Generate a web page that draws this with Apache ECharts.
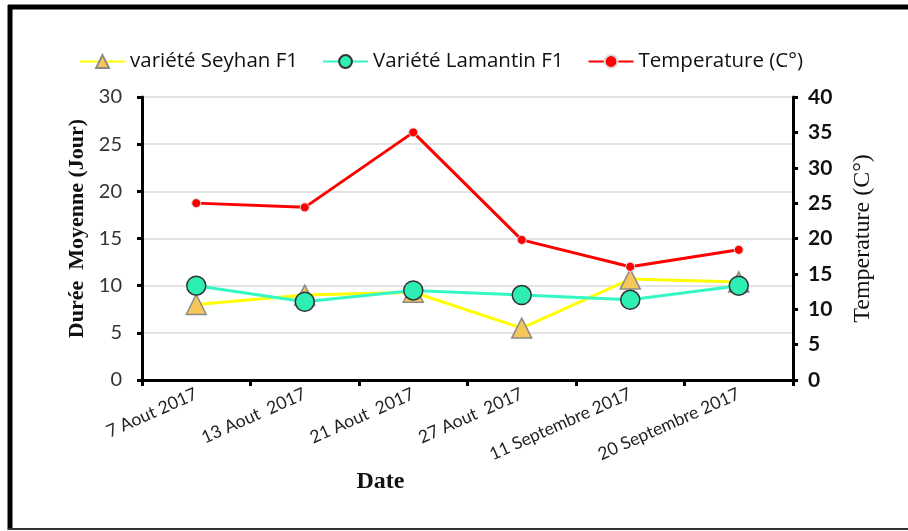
<!DOCTYPE html>
<html>
<head>
<meta charset="utf-8">
<script src="https://cdn.jsdelivr.net/npm/echarts@6/dist/echarts.min.js"></script>
<style>
body{margin:0;background:#fff;}
#main{width:908px;height:531px;}
</style>
</head>
<body>
<div id="main"></div>
<script>
// categories (dates)
var dates = ['7 Aout 2017', '13 Aout  2017', '21 Aout  2017', '27 Aout  2017', '11 Septembre 2017', '20 Septembre 2017'];
// durée moyenne (jour)
var seyhan = [8.0, 9.0, 9.3, 5.5, 10.7, 10.4];
var lamantin = [10.0, 8.3, 9.5, 9.0, 8.5, 10.0];
// temperature (C°), axe de droite
var temperature = [25.0, 24.4, 35.0, 19.8, 16.0, 18.4];

var seriesNames = ['variété Seyhan F1', 'Variété Lamantin F1', 'Temperature (C°)'];

var myChart = echarts.init(document.getElementById('main'));

var option = {
	backgroundColor: '#fff',
	animation: false,
	textStyle: {fontFamily: 'Lato'},
	legend: {
		top: 46,
		left: 74,
		itemWidth: 45,
		itemHeight: 16,
		itemGap: 24,
		textStyle: {fontSize: 20.5, color: '#111', fontFamily: 'Open Sans'},
		data: seriesNames
	},
	grid: {left: 142, right: 115, top: 97, bottom: 151},
	xAxis: {
		type: 'category',
		data: dates,
		name: 'Date',
		nameLocation: 'middle',
		nameGap: 86,
		nameTextStyle: {fontFamily: 'Liberation Serif', fontWeight: 'bold', fontSize: 24, color: '#111', padding: [0, 174, 0, 0]},
		axisLine: {lineStyle: {color: '#000', width: 3}},
		axisTick: {show: true, length: 6, lineStyle: {color: '#000', width: 3}},
		axisLabel: {rotate: 24, fontSize: 17.5, color: '#222', margin: 13, fontFamily: 'Lato'}
	},
	yAxis: [{
		type: 'value',
		min: 0,
		max: 30,
		interval: 5,
		name: 'Durée  Moyenne (Jour)',
		nameLocation: 'middle',
		nameGap: 52,
		nameTextStyle: {fontFamily: 'Liberation Serif', fontWeight: 'bold', fontSize: 22, color: '#111', padding: [0, 0, 0, 20]},
		axisLine: {show: true, lineStyle: {color: '#000', width: 3}},
		axisTick: {show: true, length: 5, lineStyle: {color: '#000', width: 3}},
		axisLabel: {fontSize: 20, color: '#333', margin: 20, fontFamily: 'Lato'},
		splitLine: {show: true, lineStyle: {color: '#e3e3e3', width: 2}}
	}, {
		type: 'value',
		min: 0,
		max: 40,
		interval: 5,
		position: 'right',
		name: 'Temperature (C°)',
		nameLocation: 'middle',
		nameGap: 58,
		nameRotate: 90,
		nameTextStyle: {fontFamily: 'Liberation Serif', fontSize: 24, color: '#111'},
		axisLine: {show: true, lineStyle: {color: '#000', width: 3}},
		axisTick: {show: true, length: 5, lineStyle: {color: '#000', width: 3}},
		axisLabel: {fontSize: 21, color: '#111', fontWeight: 'bold', margin: 15, fontFamily: 'Lato'},
		splitLine: {show: false}
	}],
	series: [{
		name: seriesNames[0],
		type: 'line',
		data: seyhan,
		symbol: 'triangle',
		symbolSize: 20,
		lineStyle: {color: '#ffff00', width: 3},
		itemStyle: {color: '#f5c65a', borderColor: '#8a8a8a', borderWidth: 1.5}
	}, {
		name: seriesNames[1],
		type: 'line',
		data: lamantin,
		symbol: 'circle',
		symbolSize: 19,
		lineStyle: {color: '#33f7c4', width: 3},
		itemStyle: {color: '#2eeeb4', borderColor: '#333', borderWidth: 1.5}
	}, {
		name: seriesNames[2],
		type: 'line',
		yAxisIndex: 1,
		data: temperature,
		symbol: 'circle',
		symbolSize: 9,
		z: 3,
		lineStyle: {color: '#ff0000', width: 3},
		itemStyle: {color: '#ff0000', borderColor: '#dddddd', borderWidth: 1}
	}],
	// cadre noir autour du graphique
	graphic: [
		{type: 'line', shape: {x1: 10, y1: 5, x2: 10, y2: 530}, style: {stroke: '#000', lineWidth: 5}},
		{type: 'line', shape: {x1: 8, y1: 7, x2: 908, y2: 7}, style: {stroke: '#000', lineWidth: 5}},
		{type: 'line', shape: {x1: 8, y1: 529, x2: 908, y2: 529}, style: {stroke: '#333', lineWidth: 2}}
	]
};

myChart.setOption(option);
</script>
</body>
</html>
